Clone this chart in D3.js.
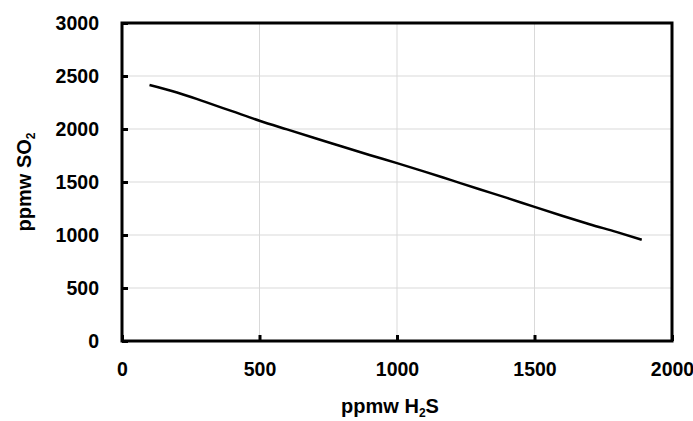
<!DOCTYPE html>
<html>
<head>
<meta charset="utf-8">
<script src="https://cdn.jsdelivr.net/npm/d3@7"></script>
<style>
  body { margin: 0; background: #fff; }
  text { font-family: "Liberation Sans", Arial, sans-serif; font-weight: bold; fill: #000; }
</style>
</head>
<body>
<script>
// H2S (x) vs SO2 (y), ppmw
const h2s = [100, 200, 300, 400, 500, 600, 700, 800, 900, 1000, 1100, 1200, 1300, 1400, 1500, 1600, 1700, 1800, 1890];
const so2 = [2415, 2345, 2258, 2168, 2078, 1996, 1915, 1835, 1755, 1678, 1598, 1515, 1432, 1350, 1265, 1182, 1102, 1027, 955];
const xTicks = [0, 500, 1000, 1500, 2000];
const yTicks = [0, 500, 1000, 1500, 2000, 2500, 3000];

const W = 693, H = 421;
const plot = { left: 122, right: 672, top: 23, bottom: 341 };

const svg = d3.select("body").append("svg")
    .attr("width", W)
    .attr("height", H);

const x = d3.scaleLinear().domain([0, 2000]).range([plot.left, plot.right]);
const y = d3.scaleLinear().domain([0, 3000]).range([plot.bottom, plot.top]);

// Gridlines
svg.append("g").selectAll("line")
    .data(yTicks.slice(1, -1))
    .enter().append("line")
    .attr("x1", plot.left).attr("x2", plot.right)
    .attr("y1", d => y(d)).attr("y2", d => y(d))
    .style("stroke", "#d9d9d9").style("stroke-width", 1);

svg.append("g").selectAll("line")
    .data(xTicks.slice(1, -1))
    .enter().append("line")
    .attr("y1", plot.top).attr("y2", plot.bottom)
    .attr("x1", d => x(d)).attr("x2", d => x(d))
    .style("stroke", "#d9d9d9").style("stroke-width", 1);

// Axes (ticks point inward)
const fmt = d3.format("d");
const xAxis = svg.append("g")
    .attr("transform", `translate(0,${plot.bottom})`)
    .call(d3.axisBottom(x).tickValues(xTicks).tickFormat(fmt).tickSizeInner(-6).tickSizeOuter(0).tickPadding(21));

const yAxis = svg.append("g")
    .attr("transform", `translate(${plot.left},0)`)
    .call(d3.axisLeft(y).tickValues(yTicks).tickFormat(fmt).tickSizeInner(-6).tickSizeOuter(0).tickPadding(23));

[xAxis, yAxis].forEach(a => {
    a.select(".domain").remove();
    a.selectAll(".tick line").style("stroke", "#000").style("stroke-width", 3);
    a.selectAll(".tick text")
        .style("font-size", "19.5px")
        .style("font-family", "'Liberation Sans', Arial, sans-serif")
        .style("font-weight", "bold");
});

// Data line
const line = d3.line()
    .x((d, i) => x(h2s[i]))
    .y(d => y(d))
    .curve(d3.curveMonotoneX);

svg.append("path")
    .datum(so2)
    .attr("d", line)
    .style("fill", "none")
    .style("stroke", "#000")
    .style("stroke-width", 2.5);

// Frame
svg.append("rect")
    .attr("x", plot.left).attr("y", plot.top)
    .attr("width", plot.right - plot.left)
    .attr("height", plot.bottom - plot.top)
    .style("fill", "none")
    .style("stroke", "#000")
    .style("stroke-width", 3);

// Axis titles
const xt = svg.append("text")
    .attr("x", 390).attr("y", 413)
    .style("text-anchor", "middle")
    .style("font-size", "20px");
xt.append("tspan").text("ppmw H");
xt.append("tspan").attr("dy", 4).style("font-size", "12px").text("2");
xt.append("tspan").attr("dy", -4).text("S");

const yt = svg.append("text")
    .attr("transform", `translate(31,${(plot.top + plot.bottom) / 2}) rotate(-90)`)
    .style("text-anchor", "middle")
    .style("font-size", "20px");
yt.append("tspan").text("ppmw SO");
yt.append("tspan").attr("dy", 4).style("font-size", "12px").text("2");
</script>
</body>
</html>
